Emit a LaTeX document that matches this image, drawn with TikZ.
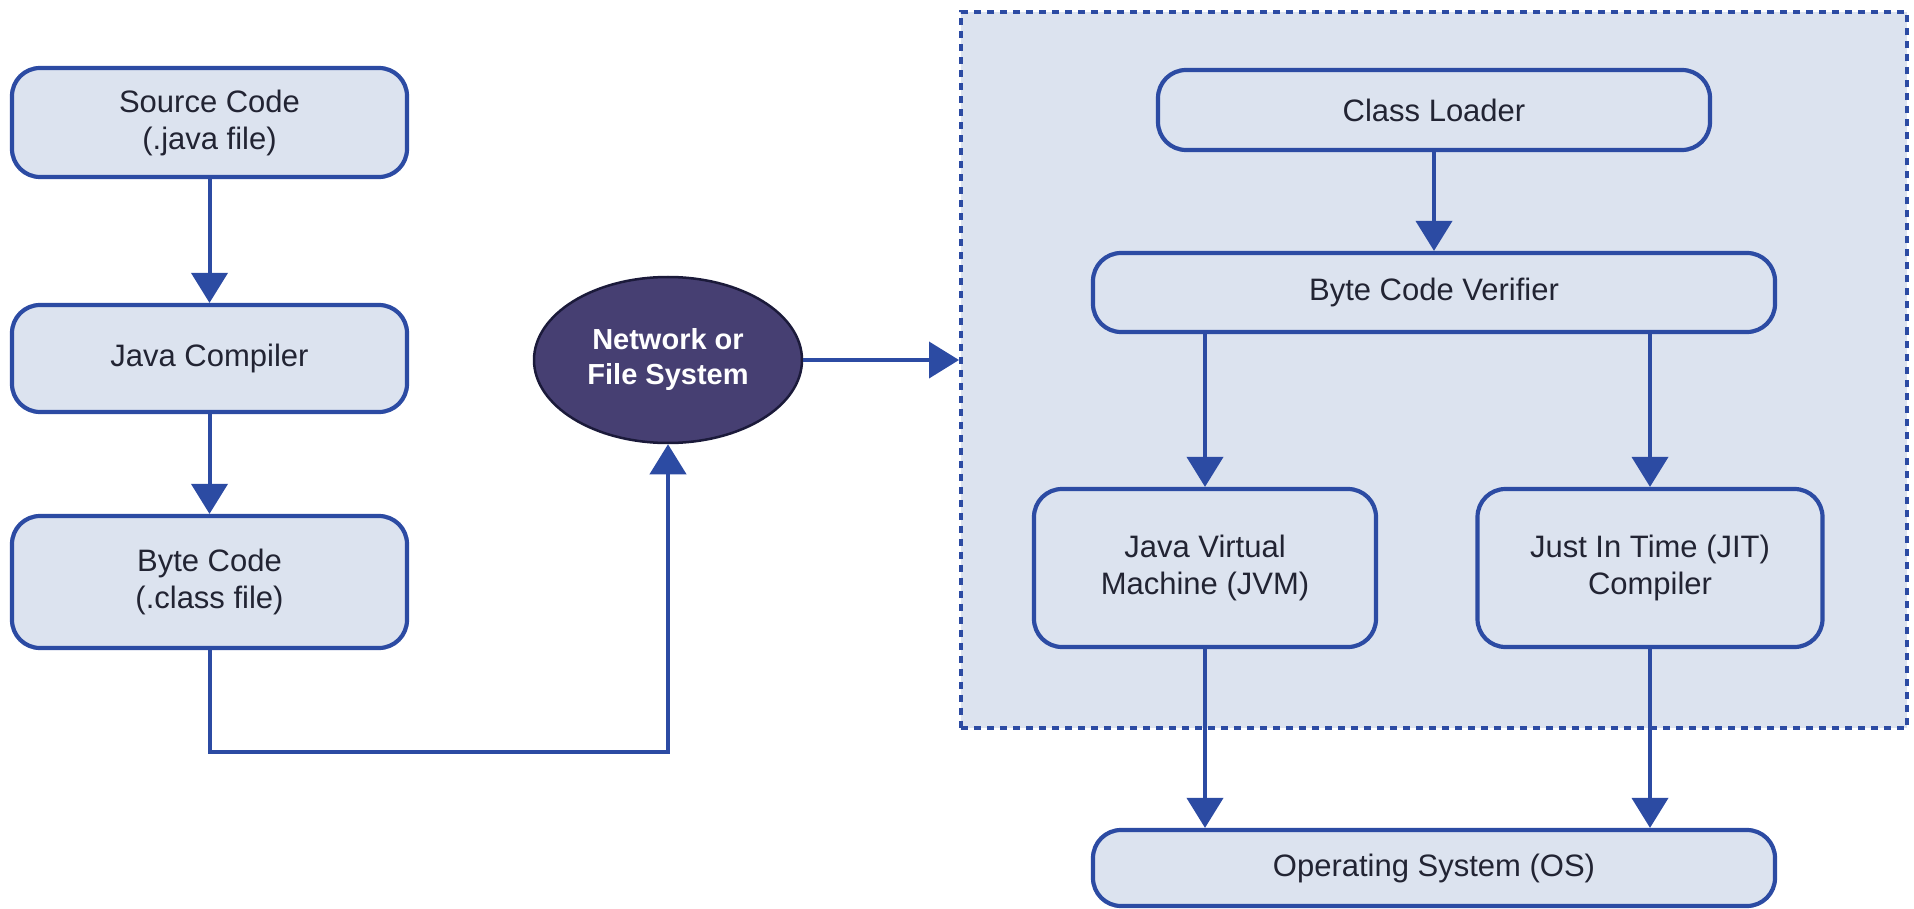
\documentclass[tikz,border=0pt]{standalone}
\usepackage{fontspec}
\setmainfont{Liberation Sans}
\usetikzlibrary{arrows.meta,shapes.geometric}

\definecolor{boxfill}{HTML}{DCE3EF}
\definecolor{boxline}{HTML}{2C4BA3}
\definecolor{inkdark}{HTML}{222433}
\definecolor{netfill}{HTML}{463F72}
\definecolor{netline}{HTML}{1B1A3A}

\tikzset{
  stage/.style={draw=boxline, line width=4.2pt, fill=boxfill, rounded corners=28pt,
    align=center, text=inkdark, font=\fontsize{31}{37}\selectfont, inner sep=0pt},
  link/.style={draw=boxline, line width=4pt,
    -{Triangle[length=30pt,width=36pt]}},
  runtime/.style={draw=boxline, line width=4pt, dash pattern=on 7pt off 6pt,
    fill=boxfill, inner sep=0pt},
}

\begin{document}
\begin{tikzpicture}[x=1pt,y=-1pt]
  \useasboundingbox (0,0) rectangle (1914,909);

  % runtime area (dashed frame)
  \node[runtime, minimum width=946pt, minimum height=715pt] (rt) at (1434,370) {};

  % build chain
  \node[stage, minimum width=395pt, minimum height=109pt] (src) at (209.5,122.5) {Source Code\\(.java file)};
  \node[stage, minimum width=395pt, minimum height=107pt] (jc) at (209.5,358.5) {Java Compiler};
  \node[stage, minimum width=395pt, minimum height=132pt] (bc) at (209.5,582) {Byte Code\\(.class file)};

  % transport
  \node[ellipse, draw=netline, line width=2.5pt, fill=netfill, text=white,
        minimum width=268pt, minimum height=166pt, inner sep=0pt, align=center,
        font=\bfseries\fontsize{29}{35}\selectfont] (net) at (668,360) {Network or\\File System};

  % runtime components
  \node[stage, minimum width=552pt, minimum height=80pt] (cl) at (1434,110) {Class Loader};
  \node[stage, minimum width=682pt, minimum height=79pt] (bcv) at (1434,292.5) {Byte Code Verifier};
  \node[stage, minimum width=342pt, minimum height=158pt] (jvm) at (1205,568) {Java Virtual\\Machine (JVM)};
  \node[stage, minimum width=345pt, minimum height=158pt] (jit) at (1650,568) {Just In Time (JIT)\\Compiler};
  \node[stage, minimum width=682pt, minimum height=76pt] (os) at (1434,868) {Operating System (OS)};

  \coordinate (turn) at (0,752);

  % connectors
  \draw[link] (src) -- (jc);
  \draw[link] (jc) -- (bc);
  \draw[link] (bc.south) -- (bc.south |- turn) -| (net.south);
  \draw[link] (net.east) -- (rt.west |- net.east);
  \draw[link] (cl) -- (bcv);
  \draw[link] (jvm.north |- bcv.south) -- (jvm.north);
  \draw[link] (jit.north |- bcv.south) -- (jit.north);
  \draw[link] (jvm.south) -- (jvm.south |- os.north);
  \draw[link] (jit.south) -- (jit.south |- os.north);
\end{tikzpicture}
\end{document}
